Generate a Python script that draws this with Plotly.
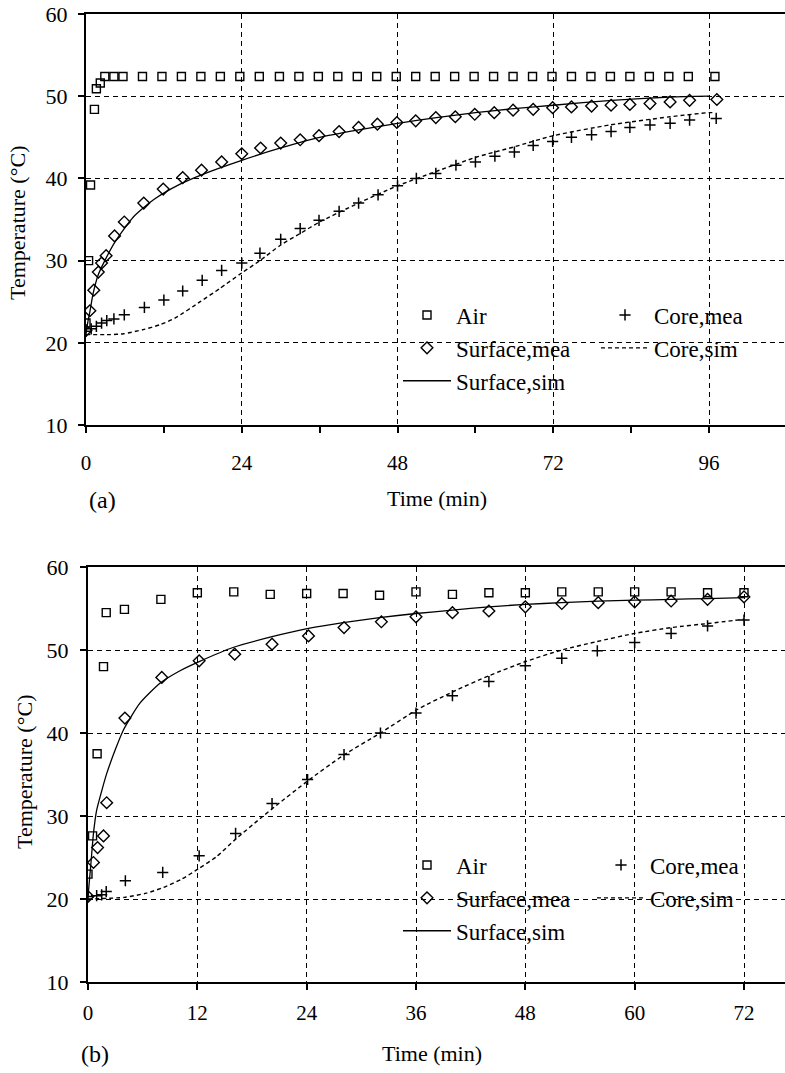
import plotly.graph_objects as go

FONT = "Liberation Serif, Times New Roman, Times, serif"

# ---------------- (a) data ----------------
a_air_t = [0.0, 0.4, 0.7, 1.3, 1.6, 2.2, 2.9, 4.3, 5.7, 8.7, 11.7, 14.7, 17.7, 20.7, 23.7, 26.7,
           29.8, 32.8, 35.8, 38.8, 41.8, 44.8, 47.8, 50.8, 53.8, 56.8, 59.8, 62.8, 65.8, 68.8,
           71.8, 74.8, 77.8, 80.8, 83.8, 86.8, 89.8, 92.8, 96.9]
a_air_T = [22.4, 30.0, 39.2, 48.4, 50.9, 51.6, 52.4, 52.4, 52.4, 52.4, 52.4, 52.4, 52.4, 52.4, 52.4, 52.4,
           52.4, 52.4, 52.4, 52.4, 52.4, 52.4, 52.4, 52.4, 52.4, 52.4, 52.4, 52.4, 52.4, 52.4,
           52.4, 52.4, 52.4, 52.4, 52.4, 52.4, 52.4, 52.4, 52.4]

a_surf_mea_t = [0.0, 0.6, 1.2, 1.9, 2.4, 3.1, 4.4, 5.9, 8.9, 11.9, 14.9, 17.8, 20.9, 24.0, 26.9, 30.0,
                33.0, 35.9, 39.0, 42.0, 44.9, 47.9, 50.8, 53.9, 56.9, 59.9, 62.9, 65.8, 68.9, 71.9,
                74.8, 77.9, 80.9, 83.8, 86.9, 90.0, 93.0, 97.2]
a_surf_mea_T = [21.5, 23.9, 26.4, 28.6, 29.7, 30.6, 33.0, 34.7, 37.0, 38.7, 40.1, 41.0, 42.0, 43.0, 43.7, 44.3,
                44.7, 45.2, 45.7, 46.2, 46.6, 46.8, 47.0, 47.4, 47.5, 47.8, 48.0, 48.3, 48.4, 48.6,
                48.7, 48.8, 48.9, 49.0, 49.1, 49.3, 49.5, 49.6]

a_surf_sim_t = [0.0, 0.3, 0.6, 1.1, 1.9, 2.9, 4.5, 7.3, 10.4, 14.5, 18.0, 24.0, 30.0, 36.0, 42.0, 48.0,
                54.0, 60.0, 66.0, 72.0, 81.0, 90.0, 96.0]
a_surf_sim_T = [21.2, 22.6, 23.8, 26.0, 28.3, 30.0, 32.3, 35.3, 37.4, 39.3, 40.5, 42.2, 43.7, 45.0, 45.9, 46.7,
                47.4, 48.0, 48.5, 48.9, 49.5, 49.9, 50.0]

a_core_mea_t = [0.0, 0.8, 1.6, 2.4, 3.2, 4.3, 5.9, 9.0, 12.0, 14.9, 17.9, 20.9, 24.0, 26.8, 30.0, 33.0,
                35.9, 39.0, 42.0, 45.0, 48.0, 50.9, 53.9, 57.0, 60.0, 63.0, 66.0, 68.9, 71.9, 74.8,
                77.9, 80.9, 83.8, 86.9, 90.0, 93.0, 97.1]
a_core_mea_T = [21.4, 21.7, 22.0, 22.4, 22.7, 22.9, 23.4, 24.3, 25.2, 26.3, 27.6, 28.8, 29.7, 30.9, 32.6, 33.9,
                34.9, 36.0, 37.0, 38.0, 39.1, 40.0, 40.6, 41.6, 42.0, 42.7, 43.2, 44.0, 44.5, 45.0,
                45.3, 45.7, 46.2, 46.5, 46.7, 47.1, 47.3]

a_core_sim_t = [0.0, 3.7, 5.8, 8.8, 11.4, 13.7, 17.6, 20.6, 24.0, 26.8, 30.0, 33.0, 36.0, 42.0, 48.0,
                53.8, 60.2, 65.8, 72.0, 80.7, 90.0, 96.0, 96.8]
a_core_sim_T = [21.0, 21.0, 21.1, 21.6, 22.2, 23.0, 25.0, 26.6, 28.5, 30.0, 31.9, 33.3, 34.7, 37.0, 39.1,
                40.8, 42.6, 43.8, 45.2, 46.5, 47.5, 48.0, 48.0]

# ---------------- (b) data ----------------
b_air_t = [0.0, 0.5, 1.0, 1.7, 2.0, 4.0, 8.0, 12.0, 16.0, 20.0, 24.0, 28.0, 32.0, 36.0, 40.0, 44.0,
           48.0, 52.0, 56.0, 60.0, 64.0, 68.0, 72.0]
b_air_T = [23.0, 27.6, 37.5, 48.0, 54.5, 54.9, 56.1, 56.9, 57.0, 56.7, 56.8, 56.8, 56.6, 57.0, 56.7, 56.9,
           56.9, 57.0, 57.0, 57.0, 57.0, 56.9, 56.9]

b_surf_mea_t = [0.0, 0.6, 1.05, 1.7, 2.05, 4.05, 8.1, 12.2, 16.1, 20.2, 24.2, 28.1, 32.2, 36.0, 40.0,
                44.0, 48.0, 52.0, 56.0, 60.0, 64.0, 68.0, 72.0]
b_surf_mea_T = [20.3, 24.4, 26.2, 27.6, 31.6, 41.8, 46.7, 48.7, 49.5, 50.7, 51.7, 52.7, 53.4, 54.0, 54.5,
                54.7, 55.2, 55.6, 55.7, 55.8, 55.9, 56.1, 56.4]

b_surf_sim_t = [0.0, 0.3, 0.6, 0.95, 1.5, 2.05, 3.0, 3.9, 5.7, 7.9, 10.1, 12.2, 15.9, 20.2, 24.2, 28.0,
                32.0, 36.0, 40.0, 44.0, 48.0, 52.0, 56.0, 60.0, 64.0, 68.0, 72.0]
b_surf_sim_T = [20.3, 24.0, 27.9, 30.7, 33.0, 35.1, 38.0, 40.4, 43.6, 46.0, 47.5, 48.6, 50.3, 51.6, 52.6, 53.3,
                53.9, 54.4, 54.8, 55.2, 55.5, 55.7, 55.9, 56.0, 56.1, 56.2, 56.3]

b_core_mea_t = [0.0, 0.95, 1.5, 2.0, 4.1, 8.2, 12.2, 16.2, 20.2, 24.1, 28.1, 32.1, 36.0, 40.0, 44.0,
                48.0, 52.0, 55.9, 60.0, 64.0, 68.0, 72.0]
b_core_mea_T = [20.3, 20.4, 20.5, 20.9, 22.2, 23.2, 25.2, 27.9, 31.5, 34.4, 37.4, 40.0, 42.4, 44.5, 46.2,
                48.1, 49.0, 49.9, 50.9, 52.0, 52.9, 53.6]

b_core_sim_t = [0.0, 4.0, 6.4, 8.3, 10.3, 12.2, 14.1, 16.3, 18.9, 20.7, 24.2, 28.0, 32.1, 36.1, 40.1,
                44.0, 48.0, 52.0, 55.8, 60.0, 64.0, 68.1, 72.0]
b_core_sim_T = [20.0, 20.2, 20.7, 21.4, 22.4, 23.7, 25.1, 27.3, 29.7, 31.3, 34.3, 37.3, 40.0, 42.8, 45.0,
                46.9, 48.6, 50.0, 51.0, 52.0, 52.7, 53.2, 53.7]

a_xticks = [0, 24, 48, 72, 96]
a_xminor = [12, 36, 60, 84]
b_xticks = [0, 12, 24, 36, 48, 60, 72]
y_ticks = [10, 20, 30, 40, 50, 60]

W, H = 785, 1073


def px(x):
    return x / W


def py(y):
    return 1 - y / H


fig = go.Figure()


def add_panel(xa, ya, leg1, leg2, air, smea, ssim, cmea, csim):
    fig.add_trace(go.Scatter(x=ssim[0], y=ssim[1], mode="lines", name="Surface,sim",
                             line=dict(color="black", width=1.3, shape="spline", smoothing=0.6),
                             xaxis=xa, yaxis=ya, legend=leg1, legendrank=3))
    fig.add_trace(go.Scatter(x=csim[0], y=csim[1], mode="lines", name="Core,sim",
                             line=dict(color="black", width=1.4, dash="4px,3px", shape="spline", smoothing=0.6),
                             xaxis=xa, yaxis=ya, legend=leg2, legendrank=2))
    fig.add_trace(go.Scatter(x=air[0], y=air[1], mode="markers", name="Air",
                             marker=dict(symbol="square-open", size=8, color="black", line=dict(width=1.4)),
                             xaxis=xa, yaxis=ya, legend=leg1, legendrank=1))
    fig.add_trace(go.Scatter(x=smea[0], y=smea[1], mode="markers", name="Surface,mea",
                             marker=dict(symbol="diamond-open", size=9, color="black", line=dict(width=1.4)),
                             xaxis=xa, yaxis=ya, legend=leg1, legendrank=2))
    fig.add_trace(go.Scatter(x=cmea[0], y=cmea[1], mode="markers", name="Core,mea",
                             marker=dict(symbol="cross-thin-open", size=8, color="black", line=dict(width=1.5)),
                             xaxis=xa, yaxis=ya, legend=leg2, legendrank=1))


add_panel("x", "y", "legend", "legend2",
          (a_air_t, a_air_T), (a_surf_mea_t, a_surf_mea_T), (a_surf_sim_t, a_surf_sim_T),
          (a_core_mea_t, a_core_mea_T), (a_core_sim_t, a_core_sim_T))
add_panel("x2", "y2", "legend3", "legend4",
          (b_air_t, b_air_T), (b_surf_mea_t, b_surf_mea_T), (b_surf_sim_t, b_surf_sim_T),
          (b_core_mea_t, b_core_mea_T), (b_core_sim_t, b_core_sim_T))

grid = dict(showgrid=True, gridcolor="black", gridwidth=1.2, griddash="5px,4px",
            showline=True, linecolor="black", linewidth=2, zeroline=False, automargin=False,
            ticks="outside", ticklen=6, tickwidth=1.5, tickcolor="black")

fig.update_layout(
    width=W, height=H,
    margin=dict(l=0, r=0, t=0, b=0, pad=0, autoexpand=False),
    paper_bgcolor="white", plot_bgcolor="white",
    font=dict(family=FONT, color="black"),
    hovermode=False,
    xaxis=dict(domain=[px(86), 1], range=[0, 107.7], tickvals=a_xticks, anchor="y",
               mirror=True, ticklabelstandoff=12,
               minor=dict(tickvals=a_xminor, ticks="outside", ticklen=6, tickwidth=1.5,
                          tickcolor="black", showgrid=False),
               tickfont=dict(family=FONT, size=21, color="black"), **grid),
    yaxis=dict(domain=[py(425), py(14)], range=[10, 60], tickvals=y_ticks, anchor="x",
               ticklabelstandoff=6, tickfont=dict(family=FONT, size=22, color="black"), **grid),
    xaxis2=dict(domain=[px(88), 1], range=[0, 76.5], tickvals=b_xticks, anchor="y2",
                mirror=True, ticklabelstandoff=5,
                tickfont=dict(family=FONT, size=21, color="black"), **grid),
    yaxis2=dict(domain=[py(982), py(567)], range=[10, 60], tickvals=y_ticks, anchor="x2",
                ticklabelstandoff=7, tickfont=dict(family=FONT, size=22, color="black"), **grid),
)

leg_common = dict(xanchor="left", yanchor="top", bgcolor="rgba(0,0,0,0)", borderwidth=0,
                  itemwidth=48, font=dict(family=FONT, size=23, color="black"),
                  traceorder="normal", orientation="v")
fig.update_layout(
    legend=dict(x=px(398), y=py(293.5), **leg_common),
    legend2=dict(x=px(596), y=py(293.5), **leg_common),
    legend3=dict(x=px(398), y=py(843.5), **leg_common),
    legend4=dict(x=px(592), y=py(843.5), **leg_common),
)

# white legend background panels (above gridlines, below data)
fig.add_shape(type="rect", xref="paper", yref="paper", x0=px(390), x1=px(781), y0=py(398), y1=py(295),
              fillcolor="white", line=dict(width=0), layer="between")
fig.add_shape(type="rect", xref="paper", yref="paper", x0=px(390), x1=px(776), y0=py(943), y1=py(843),
              fillcolor="white", line=dict(width=0), layer="between")

ann = [
    dict(text="Temperature (°C)", x=px(17), y=py(223), textangle=-90, size=22),
    dict(text="Temperature (°C)", x=px(24), y=py(772), textangle=-90, size=22),
    dict(text="Time (min)", x=px(437), y=py(499), textangle=0, size=22),
    dict(text="Time (min)", x=px(432), y=py(1053), textangle=0, size=22),
    dict(text="(a)", x=px(102), y=py(500), textangle=0, size=24),
    dict(text="(b)", x=px(95), y=py(1054), textangle=0, size=24),
]
for a in ann:
    fig.add_annotation(text=a["text"], x=a["x"], y=a["y"], xref="paper", yref="paper",
                       xanchor="center", yanchor="middle", textangle=a["textangle"],
                       showarrow=False, font=dict(family=FONT, size=a["size"], color="black"))

fig.write_html("out.html", config={"displayModeBar": False},
               post_script="document.body.style.margin='0px';")
